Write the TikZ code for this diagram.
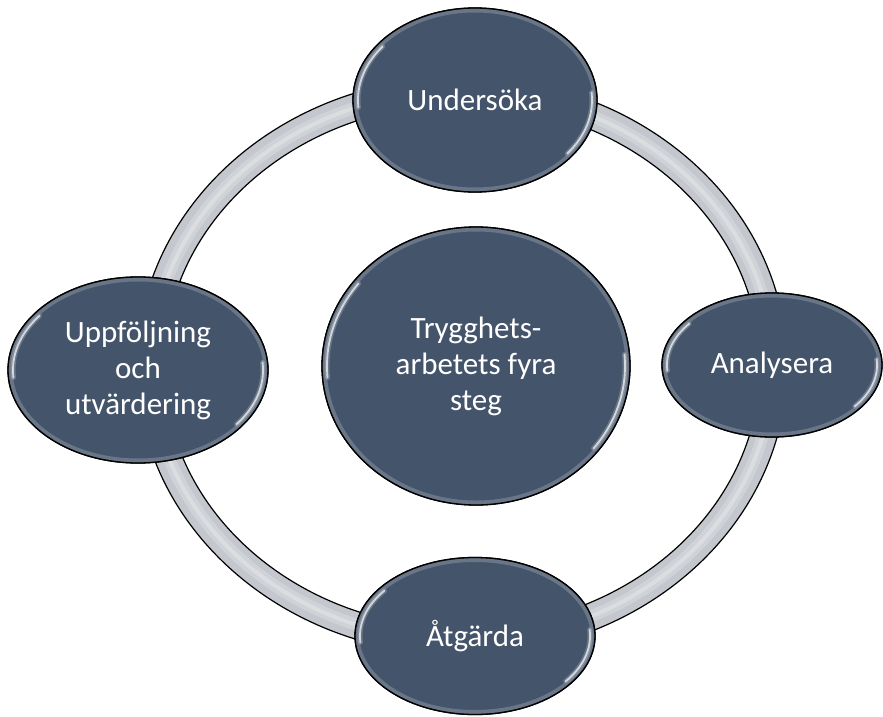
\documentclass[tikz,border=0pt]{standalone}
\usepackage{fontspec}
\setmainfont{Carlito}
\usetikzlibrary{shapes.geometric}
\definecolor{stegblue}{HTML}{44546A}
\definecolor{ringgray}{HTML}{C4C7CD}
\tikzset{
  steg/.style={ellipse,draw=black,line width=1.3pt,fill=stegblue,text=white,
    inner sep=0pt,align=center,font=\fontsize{31}{36}\selectfont},
  shine/.style={white,line cap=round,line width=1.8pt,opacity=0.7},
  glow/.style={white,line cap=round,line width=5pt,opacity=0.2}
}
\begin{document}
\begin{tikzpicture}[x=1pt,y=-1pt]
\useasboundingbox (0,0) rectangle (883,717);

% ring
\fill[ringgray,even odd rule] (462,366) ellipse [x radius=325, y radius=289]
  (462,366) ellipse [x radius=298, y radius=262];
\draw[white,line width=12pt,opacity=0.2] (462,366) ellipse [x radius=311, y radius=275];
\draw[white,line width=4pt,opacity=0.25] (462,366) ellipse [x radius=311, y radius=275];
\draw[line width=1.2pt] (462,366) ellipse [x radius=325, y radius=289];
\draw[line width=1.2pt] (462,366) ellipse [x radius=298, y radius=262];

\node[steg,minimum width=244pt,minimum height=184pt] (unders) at (475,100) {Undersöka};
\node[steg,minimum width=220pt,minimum height=144pt] (analys) at (772,365) {Analysera};
\node[steg,minimum width=240pt,minimum height=157pt] (atgard) at (475,636) {Åtgärda};
\node[steg,minimum width=260pt,minimum height=186pt] (uppf) at (138,370) {Uppföljning\\och\\utvärdering};
\node[steg,minimum width=308pt,minimum height=278pt] (trygg) at (476,366) {Trygghets-\\arbetets fyra\\steg};

% bevel
\foreach \n/\rx/\ry in {unders/122/92,analys/110/72,atgard/120/78.5,uppf/130/93,trygg/154/139}{
  \begin{scope}
    \clip (\n.center) ellipse [x radius=\rx, y radius=\ry];
    \draw[stegblue!50!white,line width=9pt,opacity=0.4] (\n.center) ellipse [x radius=\rx, y radius=\ry];
    \draw[glow] (\n.center) ++(-185:{\rx-5} and {\ry-5}) arc [start angle=-185, end angle=-142, x radius=\rx-5, y radius=\ry-5];
    \draw[shine] (\n.center) ++(-185:{\rx-5} and {\ry-5}) arc [start angle=-185, end angle=-142, x radius=\rx-5, y radius=\ry-5];
    \draw[glow] (\n.center) ++(-5:{\rx-5} and {\ry-5}) arc [start angle=-5, end angle=38, x radius=\rx-5, y radius=\ry-5];
    \draw[shine] (\n.center) ++(-5:{\rx-5} and {\ry-5}) arc [start angle=-5, end angle=38, x radius=\rx-5, y radius=\ry-5];
  \end{scope}
  \draw[line width=1.3pt] (\n.center) ellipse [x radius=\rx, y radius=\ry];
}

\end{tikzpicture}
\end{document}
